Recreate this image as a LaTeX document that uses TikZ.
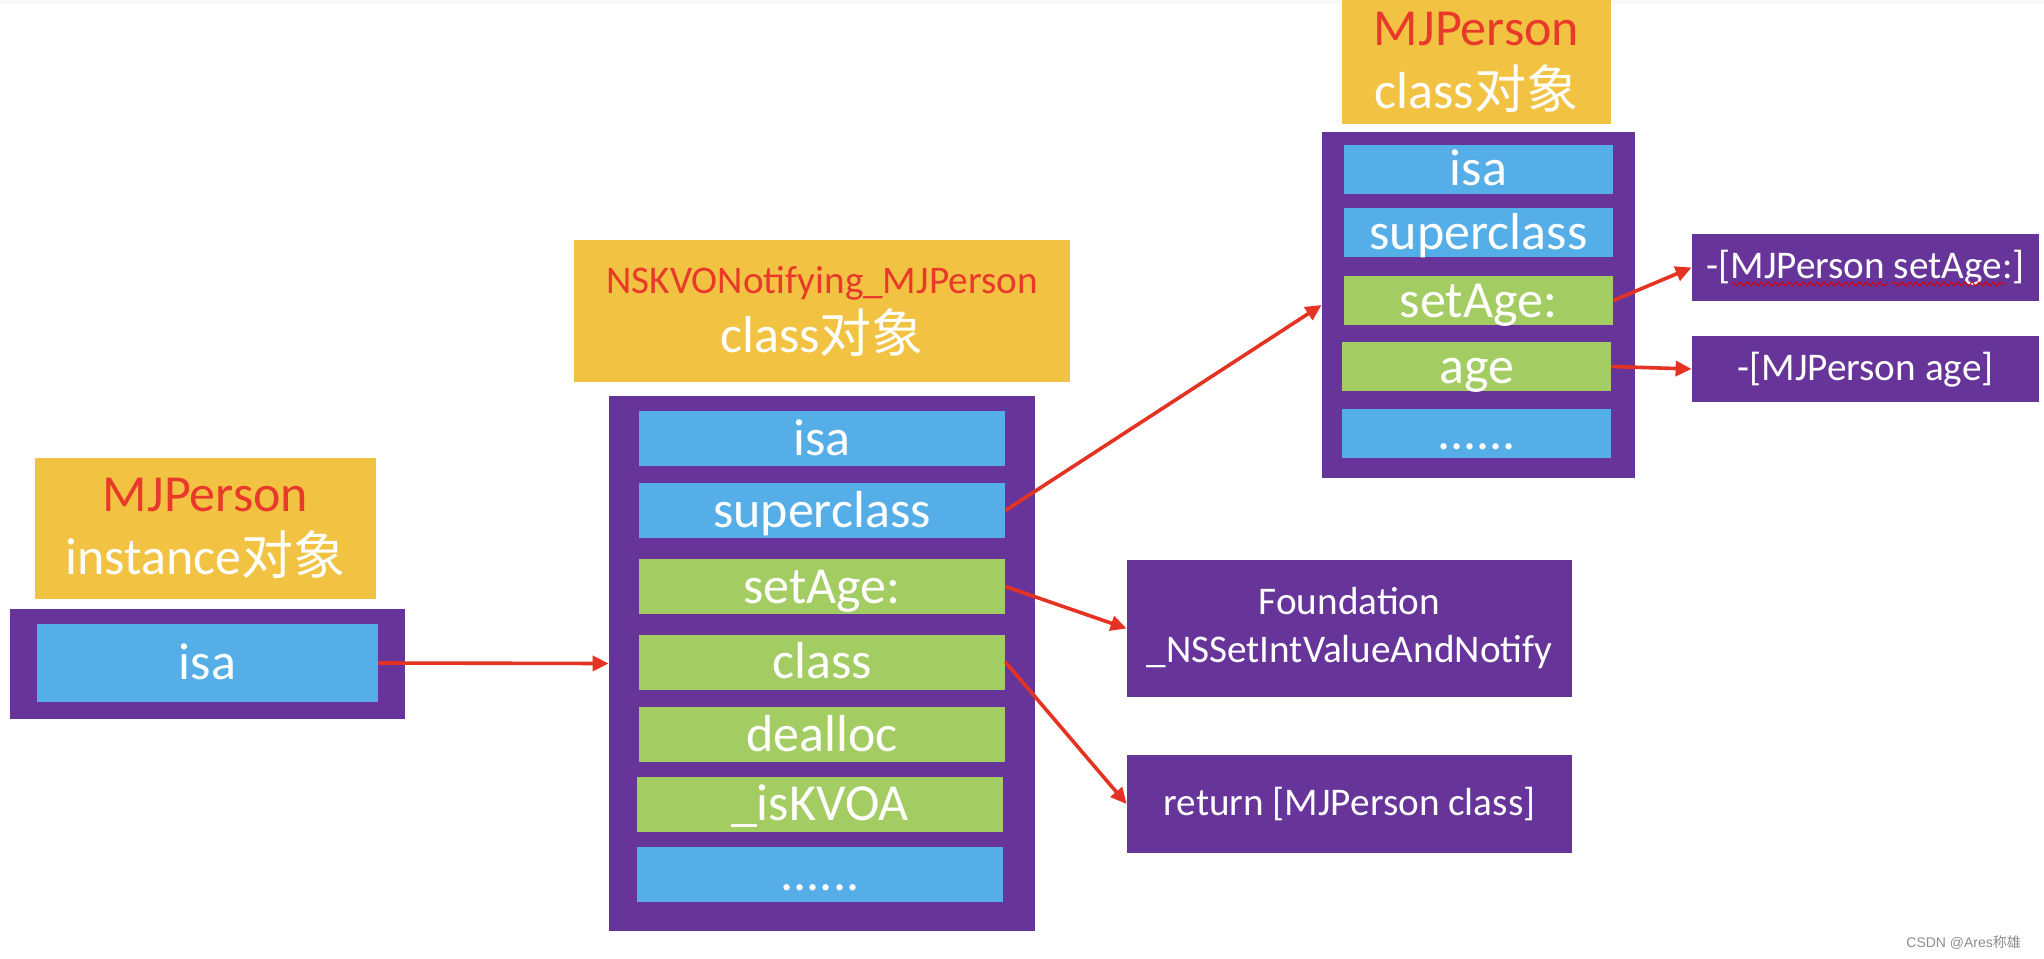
\documentclass[tikz,border=0pt]{standalone}
\usepackage{fontspec}
\setmainfont{Carlito}
\newfontfamily\cjk{Noto Sans CJK SC}
\newfontfamily\markfont{Liberation Sans}
\usetikzlibrary{arrows.meta,decorations.pathmorphing}
\definecolor{headyellow}{RGB}{242,194,66}
\definecolor{framepurple}{RGB}{103,53,153}
\definecolor{slotblue}{RGB}{86,174,232}
\definecolor{slotgreen}{RGB}{163,205,98}
\definecolor{linkred}{RGB}{229,51,35}
\definecolor{namered}{RGB}{232,57,42}
\newcommand\cellfont{\fontsize{26}{31.5}\selectfont}
\newcommand\impfont{\fontsize{19.6}{24}\selectfont}
\tikzset{
  every picture/.style={line join=round, >={Triangle[length=8pt,width=7.5pt]}},
  titlebox/.style={fill=headyellow, text=white, align=center, inner sep=0pt, font=\cellfont},
  framebox/.style={fill=framepurple, inner sep=0pt},
  slotbox/.style={text=white, inner sep=0pt, font=\cellfont, text height=18.5pt, text depth=2pt},
  bluecell/.style={slotbox, fill=slotblue},
  greencell/.style={slotbox, fill=slotgreen},
  midcell/.style={minimum width=183pt, minimum height=27.5pt},
  rightcell/.style={minimum width=134.5pt, minimum height=24.5pt},
  impbox/.style={fill=framepurple, text=white, align=center, inner sep=0pt, font=\impfont},
  oneline/.style={text height=15pt, text depth=4pt},
  link/.style={->, draw=linkred, line width=1.8pt},
  squiggle/.style={draw=red!85!black, line width=0.5pt, decorate, decoration={snake, amplitude=1pt, segment length=3.5pt}},
}

\begin{document}
\begin{tikzpicture}[x=0.5pt,y=-0.5pt]
\useasboundingbox(0,0)rectangle(2044,958);
\fill[black!3](0,0)rectangle(2044,4);
% instance object
\node[titlebox,minimum width=170.5pt,minimum height=70.5pt](instHead)at(205.5,528.5){{\color{namered}MJPerson}\\instance{\cjk 对象}};
\node[framebox,minimum width=197.5pt,minimum height=55pt](instBox)at(207.5,664){};
\node[bluecell,minimum width=170.5pt,minimum height=39pt](isaL)at(207.5,663){isa};
% NSKVONotifying_MJPerson class object
\node[titlebox,minimum width=248pt,minimum height=71pt,font=\fontsize{26}{29.5}\selectfont](kvoHead)at(822,311){{\impfont\color{namered}NSKVONotifying\_MJPerson}\\class{\cjk 对象}};
\node[framebox,minimum width=213pt,minimum height=267.5pt](kvoBox)at(822,663.5){};
\node[bluecell,midcell](isaM)at(822,438.5){isa};
\node[bluecell,midcell](supM)at(822,510.5){superclass};
\node[greencell,midcell](setM)at(822,586.5){setAge:};
\node[greencell,midcell](clsM)at(822,662){class};
\node[greencell,midcell](deallocM)at(822,734.5){dealloc};
\node[greencell,midcell](kvoaM)at(820,804){\_isKVOA};
\node[bluecell,midcell](dotsM)at(820,874){......};
% MJPerson class object
\node[titlebox,minimum width=134.5pt,minimum height=62pt](clsHead)at(1476.5,62){{\color{namered}MJPerson}\\class{\cjk 对象}};
\node[framebox,minimum width=156.5pt,minimum height=173pt](clsBox)at(1478.5,305){};
\node[bluecell,rightcell](isaR)at(1478.5,169){isa};
\node[bluecell,rightcell](supR)at(1478.5,232.5){superclass};
\node[greencell,rightcell](setR)at(1478.5,300.5){setAge:};
\node[greencell,rightcell](ageR)at(1476.5,366.5){age};
\node[bluecell,rightcell](dotsR)at(1476.5,433){......};
% method implementations
\node[impbox,minimum width=222.5pt,minimum height=68.5pt](found)at(1349.5,628.5){Foundation\\\_NSSetIntValueAndNotify};
\node[impbox,oneline,minimum width=222.5pt,minimum height=49pt](ret)at(1349.5,804){return [MJPerson class]};
\node[impbox,oneline,minimum width=173.5pt,minimum height=33.5pt](impSet)at(1865.5,267.5){-[MJPerson setAge:]};
\node[impbox,oneline,minimum width=173.5pt,minimum height=33pt](impAge)at(1865.5,369){-[MJPerson age]};
\draw[squiggle](1731,284)--(1889,284);
\draw[squiggle](1893,284)--(2005,284);
% links
\draw[link](isaL.east)--(kvoBox.west);
\draw[link](supM.east)--(clsBox.west);
\draw[link](setM.east)--(found.west);
\draw[link](clsM.east)--(ret.west);
\draw[link](setR.east)--(impSet.west);
\draw[link](ageR.east)--(impAge.west);
\node[anchor=base east,text=black!45,font=\markfont\fontsize{7}{9}\selectfont](mark)at(2028,947){CSDN @Ares{\cjk 称雄}};
\end{tikzpicture}
\end{document}
